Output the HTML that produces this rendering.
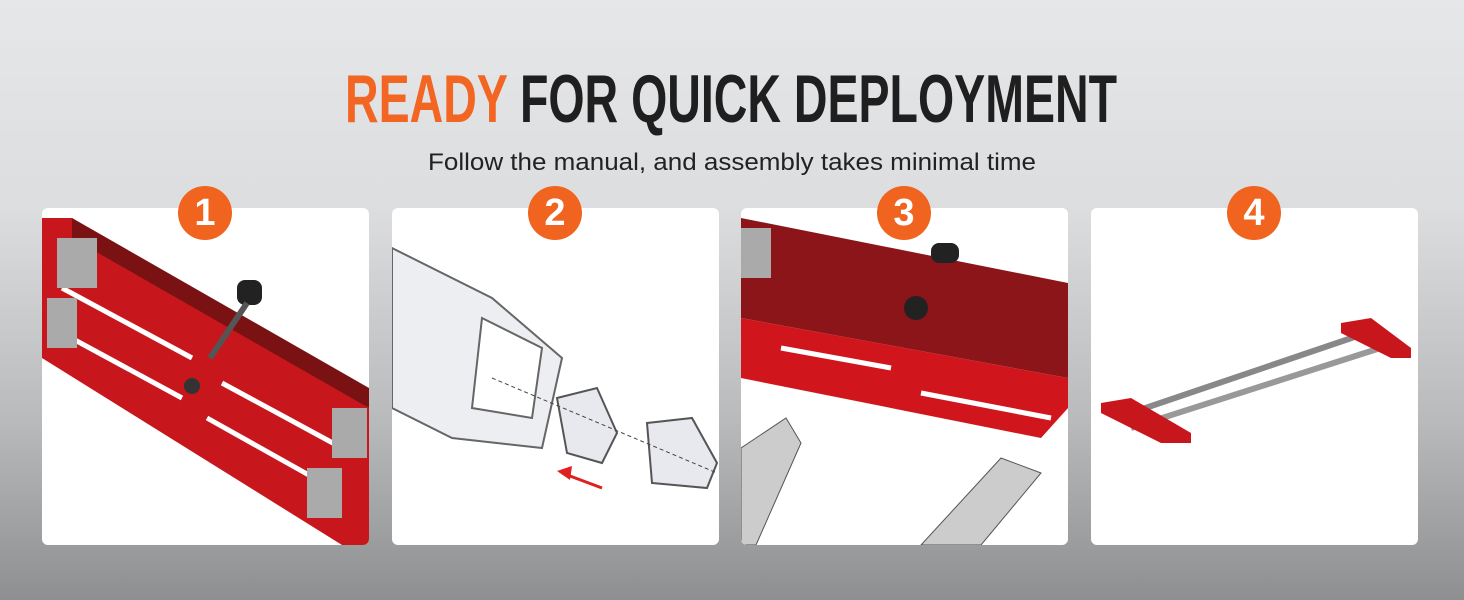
<!DOCTYPE html>
<html><head><meta charset="utf-8"><style>
html,body{margin:0;padding:0}
body{width:1464px;height:600px;overflow:hidden;background:linear-gradient(#e6e7e9 0%,#dcdddf 35%,#b9babc 70%,#8e8f91 100%);position:relative;font-family:"Liberation Sans",sans-serif}
.p{position:absolute;top:208px;width:327px;height:337px;background:#fff;border-radius:6px;overflow:hidden}
.c{position:absolute;top:186px;width:54px;height:54px;border-radius:50%;background:#f06420;color:#fff;font:bold 38px/54px "Liberation Sans",sans-serif;text-align:center;z-index:2}
</style></head><body>
<svg style="position:absolute;left:0;top:0" width="1464" height="200">
<text x="345" y="122" font-family="Liberation Sans Narrow, Liberation Sans, sans-serif" font-weight="bold" font-size="68" textLength="772" lengthAdjust="spacingAndGlyphs"><tspan fill="#f26522">READY</tspan><tspan fill="#1f1f1f"> FOR QUICK DEPLOYMENT</tspan></text>
<text x="428" y="170" font-family="Liberation Sans, sans-serif" font-size="24" fill="#222" textLength="608" lengthAdjust="spacingAndGlyphs">Follow the manual, and assembly takes minimal time</text>
</svg>
<div class="p" style="left:42px"><svg width="327" height="337">
<polygon points="0,10 30,10 327,200 327,337 300,337 0,150" fill="#c8161d"/>
<polygon points="30,10 327,180 327,200 30,30" fill="#7a1214"/>
<line x1="20" y1="80" x2="150" y2="150" stroke="#fff" stroke-width="5"/>
<line x1="20" y1="125" x2="140" y2="190" stroke="#fff" stroke-width="5"/>
<line x1="180" y1="175" x2="300" y2="240" stroke="#fff" stroke-width="5"/>
<line x1="165" y1="210" x2="290" y2="280" stroke="#fff" stroke-width="5"/>
<circle cx="150" cy="178" r="8" fill="#333"/>
<rect x="195" y="72" width="25" height="25" rx="8" fill="#222"/>
<line x1="205" y1="95" x2="168" y2="150" stroke="#555" stroke-width="6"/>
<rect x="15" y="30" width="40" height="50" fill="#aaa"/><rect x="5" y="90" width="30" height="50" fill="#aaa"/>
<rect x="290" y="200" width="35" height="50" fill="#aaa"/><rect x="265" y="260" width="35" height="50" fill="#aaa"/>
</svg></div>
<div class="p" style="left:392px"><svg width="327" height="337">
<polygon points="0,40 100,90 170,150 150,240 60,230 0,200" fill="#eceef2" stroke="#666" stroke-width="2"/>
<polygon points="90,110 150,140 140,210 80,200" fill="#fff" stroke="#666" stroke-width="2"/>
<polygon points="165,190 205,180 225,225 210,255 175,245" fill="#e8e9ee" stroke="#555" stroke-width="2"/>
<polygon points="255,215 300,210 325,255 315,280 260,275" fill="#e8e9ee" stroke="#555" stroke-width="2"/>
<line x1="100" y1="170" x2="325" y2="265" stroke="#444" stroke-dasharray="4 3"/>
<line x1="210" y1="280" x2="170" y2="265" stroke="#e02020" stroke-width="3"/>
<polygon points="165,263 180,258 178,272" fill="#e02020"/>
</svg></div>
<div class="p" style="left:741px"><svg width="327" height="337">
<polygon points="0,10 327,75 327,170 0,110" fill="#8b1518"/>
<polygon points="0,110 327,170 327,200 300,230 0,170" fill="#d0161c"/>
<line x1="40" y1="140" x2="150" y2="160" stroke="#fff" stroke-width="5"/>
<line x1="180" y1="185" x2="310" y2="210" stroke="#fff" stroke-width="5"/>
<circle cx="175" cy="100" r="12" fill="#222"/><rect x="190" y="35" width="28" height="20" rx="8" fill="#222"/>
<polygon points="0,240 45,210 60,235 15,337 0,337" fill="#ccc" stroke="#555"/>
<polygon points="180,337 260,250 300,265 240,337" fill="#ccc" stroke="#555"/>
<rect x="0" y="20" width="30" height="50" fill="#aaa"/>
</svg></div>
<div class="p" style="left:1091px"><svg width="327" height="337">
<line x1="25" y1="210" x2="290" y2="120" stroke="#888" stroke-width="6"/>
<line x1="40" y1="220" x2="305" y2="135" stroke="#999" stroke-width="6"/>
<polygon points="10,195 40,190 100,225 100,235 70,235 10,205" fill="#c8161d"/>
<polygon points="250,115 280,110 320,140 320,150 300,150 250,125" fill="#c8161d"/>
</svg></div>
<div class="c" style="left:178px">1</div>
<div class="c" style="left:528px">2</div>
<div class="c" style="left:877px">3</div>
<div class="c" style="left:1227px">4</div>
</body></html>
